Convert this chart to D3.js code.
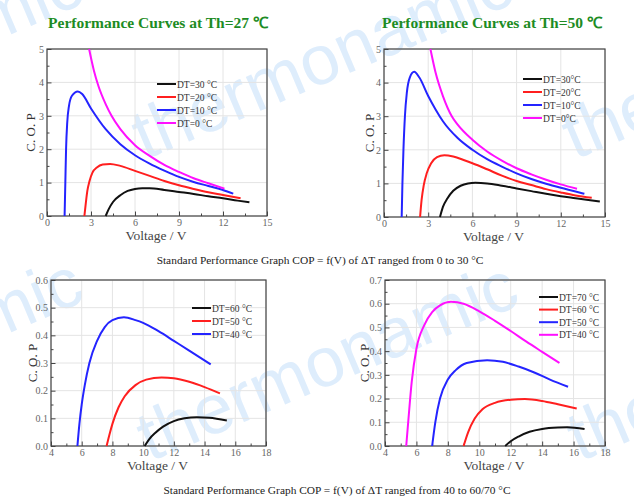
<!DOCTYPE html>
<html lang="en">
<head>
  <meta charset="UTF-8">
  <title>Performance Curves</title>
  <style>
    body { margin: 0; background: #fff; }
    svg { display: block; }
  </style>
</head>
<body>
  <script src="https://d3js.org/d3.v7.min.js"></script>
  <script>
    'use strict';

    const width = 634;
    const height = 498;

    // --- data: [voltage, COP] ---
    const th27_dt30 = [[4.0,0],[4.2,0.2],[4.5,0.42],[5,0.62],[5.5,0.75],[6,0.81],[6.5,0.83],[7,0.83],[8,0.78],[9,0.72],[10,0.66],[11,0.59],[12,0.53],[13,0.46],[13.8,0.41]];
    const th27_dt20 = [[2.55,0],[2.65,0.4],[2.75,0.75],[2.9,1.05],[3.1,1.3],[3.4,1.45],[3.8,1.54],[4.3,1.56],[5,1.5],[6,1.35],[7,1.2],[8,1.05],[9,0.92],[10,0.81],[11,0.71],[12,0.63],[13.2,0.53]];
    const th27_dt10 = [[1.2,0],[1.25,1.0],[1.3,2.0],[1.38,2.8],[1.5,3.3],[1.7,3.6],[2.1,3.73],[2.4,3.65],[3,3.22],[4,2.6],[5,2.15],[6,1.82],[7,1.57],[8,1.36],[9,1.17],[10,1.02],[11,0.9],[12,0.78],[12.7,0.67]];
    const th27_dt0  = [[2.87,5],[3.2,4.35],[3.5,3.9],[4,3.35],[4.4,3.0],[5,2.6],[6,2.12],[7,1.8],[8,1.53],[9,1.32],[10,1.13],[11,0.98],[12.1,0.82]];

    const th50_dt30 = [[3.8,0],[4.0,0.3],[4.3,0.55],[4.7,0.78],[5.2,0.93],[5.7,1.0],[6.2,1.02],[7,1.0],[8,0.93],[9,0.85],[10,0.77],[11,0.69],[12,0.62],[13,0.56],[14,0.5],[14.65,0.46]];
    const th50_dt20 = [[2.45,0],[2.55,0.5],[2.7,0.95],[2.9,1.3],[3.2,1.6],[3.6,1.78],[4.1,1.84],[4.7,1.8],[5.5,1.68],[6,1.6],[7,1.42],[8,1.23],[9,1.07],[10,0.95],[11,0.83],[12,0.73],[13,0.64],[14.1,0.57]];
    const th50_dt10 = [[1.2,0],[1.25,1.0],[1.32,2.0],[1.42,3.0],[1.55,3.7],[1.75,4.15],[2.05,4.32],[2.4,4.15],[3,3.6],[3.5,3.2],[4,2.85],[5,2.35],[6,2.0],[7,1.72],[8,1.5],[9,1.3],[10,1.13],[11,0.99],[12,0.87],[13,0.76],[13.6,0.69]];
    const th50_dt0  = [[3.15,5],[3.5,4.3],[4,3.6],[4.6,3.0],[5,2.75],[6,2.3],[7,1.95],[8,1.68],[9,1.45],[10,1.27],[11,1.11],[12,0.97],[13.1,0.84]];

    const lo_dt60 = [[10.1,0],[10.4,0.025],[10.8,0.048],[11.3,0.07],[12,0.09],[12.7,0.1],[13.5,0.104],[14.3,0.102],[15.45,0.092]];
    const lo_dt50 = [[7.62,0],[7.8,0.04],[8.0,0.08],[8.4,0.14],[8.8,0.18],[9.5,0.22],[10.2,0.24],[11.2,0.248],[12,0.245],[13,0.232],[14,0.213],[15,0.19]];
    const lo_dt40 = [[5.72,0],[5.85,0.08],[6.0,0.15],[6.2,0.22],[6.5,0.3],[7.0,0.38],[7.5,0.43],[8,0.455],[8.75,0.465],[9.5,0.455],[10,0.445],[11,0.415],[12,0.38],[13,0.345],[14.4,0.295]];

    const hi_dt70 = [[11.65,0],[12,0.02],[12.5,0.04],[13.2,0.06],[14,0.072],[15,0.078],[15.6,0.079],[16.7,0.072]];
    const hi_dt60 = [[9.0,0],[9.3,0.06],[9.7,0.115],[10.2,0.155],[11,0.182],[12,0.195],[12.9,0.198],[14,0.19],[15,0.176],[16.2,0.158]];
    const hi_dt50 = [[7.0,0],[7.2,0.1],[7.5,0.2],[8,0.28],[8.5,0.32],[9.2,0.35],[10.5,0.362],[11.5,0.355],[12.5,0.335],[13.5,0.31],[14.5,0.28],[15.65,0.25]];
    const hi_dt40 = [[5.35,0],[5.5,0.12],[5.7,0.27],[6.0,0.41],[6.5,0.51],[7,0.565],[7.5,0.593],[8.2,0.608],[9,0.6],[10,0.568],[11,0.528],[12,0.485],[13,0.44],[14,0.397],[15.1,0.35]];

    // tick values
    const topXTicks = [0, 3, 6, 9, 12, 15];
    const topYTicks = [0, 1, 2, 3, 4, 5];
    const lowXTicks = [4, 6, 8, 10, 12, 14, 16, 18];
    const lowYTicksA = [0, 0.1, 0.2, 0.3, 0.4, 0.5, 0.6];
    const lowYTicksB = [0, 0.1, 0.2, 0.3, 0.4, 0.5, 0.6, 0.7];

    // legend labels
    const labels27 = ['DT=30 °C', 'DT=20 °C', 'DT=10 °C', 'DT=0 °C'];
    const labels50 = ['DT=30°C', 'DT=20°C', 'DT=10°C', 'DT=0°C'];
    const labelsLo = ['DT=60 °C', 'DT=50 °C', 'DT=40 °C'];
    const labelsHi = ['DT=70 °C', 'DT=60 °C', 'DT=50 °C', 'DT=40 °C'];

    const titles = ['Performance Curves at Th=27 \u2103', 'Performance Curves at Th=50 \u2103'];
    const captions = [
      'Standard Performance Graph COP = f(V) of \u0394T ranged from 0 to 30 \u00B0C',
      'Standard Performance Graph COP = f(V) of \u0394T ranged from 40 to 60/70 \u00B0C'
    ];

    const cBlack = '#111111', cRed = '#ff1f1f', cBlue = '#2424ff', cMag = '#ff10ff';
    const serif = '"Liberation Serif", "Times New Roman", serif';

    const svg = d3.select('body')
      .append('svg')
      .attr('width', width)
      .attr('height', height);

    // watermark
    const wm = svg.append('g').attr('class', 'watermark');
    [[-285, 160], [145, 160], [575, 160], [-285, 458], [150, 462], [580, 462]].forEach(p => {
      wm.append('text')
        .attr('transform', 'translate(' + p[0] + ',' + p[1] + ') rotate(-23)')
        .attr('font-family', '"Liberation Sans", Arial, sans-serif')
        .attr('font-size', 70)
        .attr('fill', '#deedfc')
        .text('thermonamic');
    });

    function drawPanel(cfg) {
      const g = svg.append('g');
      const x = d3.scaleLinear().domain(cfg.xDomain).range([cfg.left, cfg.right]);
      const y = d3.scaleLinear().domain(cfg.yDomain).range([cfg.bottom, cfg.top]);

      // grid
      g.selectAll('.gx').data(cfg.xTicks).enter().append('line')
        .attr('x1', d => x(d)).attr('x2', d => x(d))
        .attr('y1', cfg.top).attr('y2', cfg.bottom)
        .attr('stroke', '#e4e4e4').attr('stroke-width', 1);
      g.selectAll('.gy').data(cfg.yTicks).enter().append('line')
        .attr('x1', cfg.left).attr('x2', cfg.right)
        .attr('y1', d => y(d)).attr('y2', d => y(d))
        .attr('stroke', '#e4e4e4').attr('stroke-width', 1);

      // axes (ticks inward)
      const step = cfg.xTicks[1] - cfg.xTicks[0];
      const xMinor = d3.range(cfg.xDomain[0] + step / 2, cfg.xDomain[1], step);
      const ystep = cfg.yTicks[1] - cfg.yTicks[0];
      const yMinor = d3.range(cfg.yDomain[0] + ystep / 2, cfg.yDomain[1], ystep);

      g.append('g')
        .attr('transform', 'translate(0,' + cfg.bottom + ')')
        .call(d3.axisBottom(x).tickValues(xMinor).tickSize(-2.5).tickFormat(''))
        .call(a => a.select('.domain').remove());
      g.append('g')
        .attr('transform', 'translate(' + cfg.left + ',0)')
        .call(d3.axisLeft(y).tickValues(yMinor).tickSize(-2.5).tickFormat(''))
        .call(a => a.select('.domain').remove());

      const xAxis = g.append('g')
        .attr('transform', 'translate(0,' + cfg.bottom + ')')
        .call(d3.axisBottom(x).tickValues(cfg.xTicks).tickSize(-4.5).tickPadding(3).tickFormat(d3.format('d')));
      const yAxis = g.append('g')
        .attr('transform', 'translate(' + cfg.left + ',0)')
        .call(d3.axisLeft(y).tickValues(cfg.yTicks).tickSize(-4.5).tickPadding(3).tickFormat(d3.format(cfg.yFormat)));
      [xAxis, yAxis].forEach(a => {
        a.select('.domain').remove();
        a.selectAll('text').attr('font-family', serif).attr('font-size', 10).attr('fill', '#666');
      });
      g.selectAll('.tick line').attr('stroke', '#444');

      // frame
      g.append('rect')
        .attr('x', cfg.left).attr('y', cfg.top)
        .attr('width', cfg.right - cfg.left).attr('height', cfg.bottom - cfg.top)
        .attr('fill', 'none').attr('stroke', '#444').attr('stroke-width', 1.2);

      // curves
      const line = d3.line()
        .x(d => x(d[0]))
        .y(d => y(d[1]))
        .curve(d3.curveMonotoneX);
      cfg.series.forEach(s => {
        g.append('path')
          .datum(s.data)
          .attr('d', line)
          .attr('fill', 'none')
          .attr('stroke', s.color)
          .attr('stroke-width', 2);
      });

      // legend
      const lg = g.append('g').attr('transform', 'translate(' + cfg.legend[0] + ',' + cfg.legend[1] + ')');
      cfg.series.forEach((s, i) => {
        lg.append('line')
          .attr('x1', 0).attr('x2', 19)
          .attr('y1', i * cfg.legendStep).attr('y2', i * cfg.legendStep)
          .attr('stroke', s.color).attr('stroke-width', 2);
        lg.append('text')
          .attr('x', 20).attr('y', i * cfg.legendStep + 3.5)
          .attr('font-family', serif).attr('font-size', 9.5).attr('fill', '#333')
          .text(s.label);
      });

      // axis titles
      g.append('text')
        .attr('transform', 'translate(' + (cfg.left - cfg.yLabelOff) + ',' + ((cfg.top + cfg.bottom) / 2) + ') rotate(-90)')
        .attr('text-anchor', 'middle')
        .attr('font-family', serif).attr('font-size', 13).attr('fill', '#333')
        .text('C. O. P');
      g.append('text')
        .attr('x', (cfg.left + cfg.right) / 2 - 1)
        .attr('y', cfg.bottom + 23.5)
        .attr('text-anchor', 'middle')
        .attr('font-family', serif).attr('font-size', 13.5).attr('fill', '#444')
        .text('Voltage / V');
    }

    drawPanel({
      left: 47, right: 267, top: 49, bottom: 216,
      xDomain: [0, 15], yDomain: [0, 5], xTicks: topXTicks, yTicks: topYTicks, yFormat: 'd',
      legend: [157, 84], legendStep: 13, yLabelOff: 12,
      series: [
        { data: th27_dt30, color: cBlack, label: labels27[0] },
        { data: th27_dt20, color: cRed, label: labels27[1] },
        { data: th27_dt10, color: cBlue, label: labels27[2] },
        { data: th27_dt0, color: cMag, label: labels27[3] }
      ]
    });
    drawPanel({
      left: 384, right: 605, top: 49, bottom: 217,
      xDomain: [0, 15], yDomain: [0, 5], xTicks: topXTicks, yTicks: topYTicks, yFormat: 'd',
      legend: [523, 79], legendStep: 13, yLabelOff: 10,
      series: [
        { data: th50_dt30, color: cBlack, label: labels50[0] },
        { data: th50_dt20, color: cRed, label: labels50[1] },
        { data: th50_dt10, color: cBlue, label: labels50[2] },
        { data: th50_dt0, color: cMag, label: labels50[3] }
      ]
    });
    drawPanel({
      left: 51, right: 266, top: 280, bottom: 446,
      xDomain: [4, 18], yDomain: [0, 0.6], xTicks: lowXTicks, yTicks: lowYTicksA, yFormat: '.1f',
      legend: [192, 308], legendStep: 13, yLabelOff: 14,
      series: [
        { data: lo_dt60, color: cBlack, label: labelsLo[0] },
        { data: lo_dt50, color: cRed, label: labelsLo[1] },
        { data: lo_dt40, color: cBlue, label: labelsLo[2] }
      ]
    });
    drawPanel({
      left: 385, right: 605, top: 280, bottom: 446,
      xDomain: [4, 18], yDomain: [0, 0.7], xTicks: lowXTicks, yTicks: lowYTicksB, yFormat: '.1f',
      legend: [539, 297], legendStep: 12.6, yLabelOff: 16,
      series: [
        { data: hi_dt70, color: cBlack, label: labelsHi[0] },
        { data: hi_dt60, color: cRed, label: labelsHi[1] },
        { data: hi_dt50, color: cBlue, label: labelsHi[2] },
        { data: hi_dt40, color: cMag, label: labelsHi[3] }
      ]
    });

    // titles and captions
    [158, 492].forEach((cx, i) => {
      svg.append('text')
        .attr('x', cx).attr('y', 28)
        .attr('text-anchor', 'middle')
        .attr('font-family', serif).attr('font-weight', 'bold').attr('font-size', 15.5)
        .attr('fill', '#1d8c24')
        .text(titles[i]);
    });
    [[320, 264], [337, 494]].forEach((p, i) => {
      svg.append('text')
        .attr('x', p[0]).attr('y', p[1])
        .attr('text-anchor', 'middle')
        .attr('font-family', serif).attr('font-size', 11.4).attr('fill', '#222')
        .text(captions[i]);
    });
  </script>
</body>
</html>
